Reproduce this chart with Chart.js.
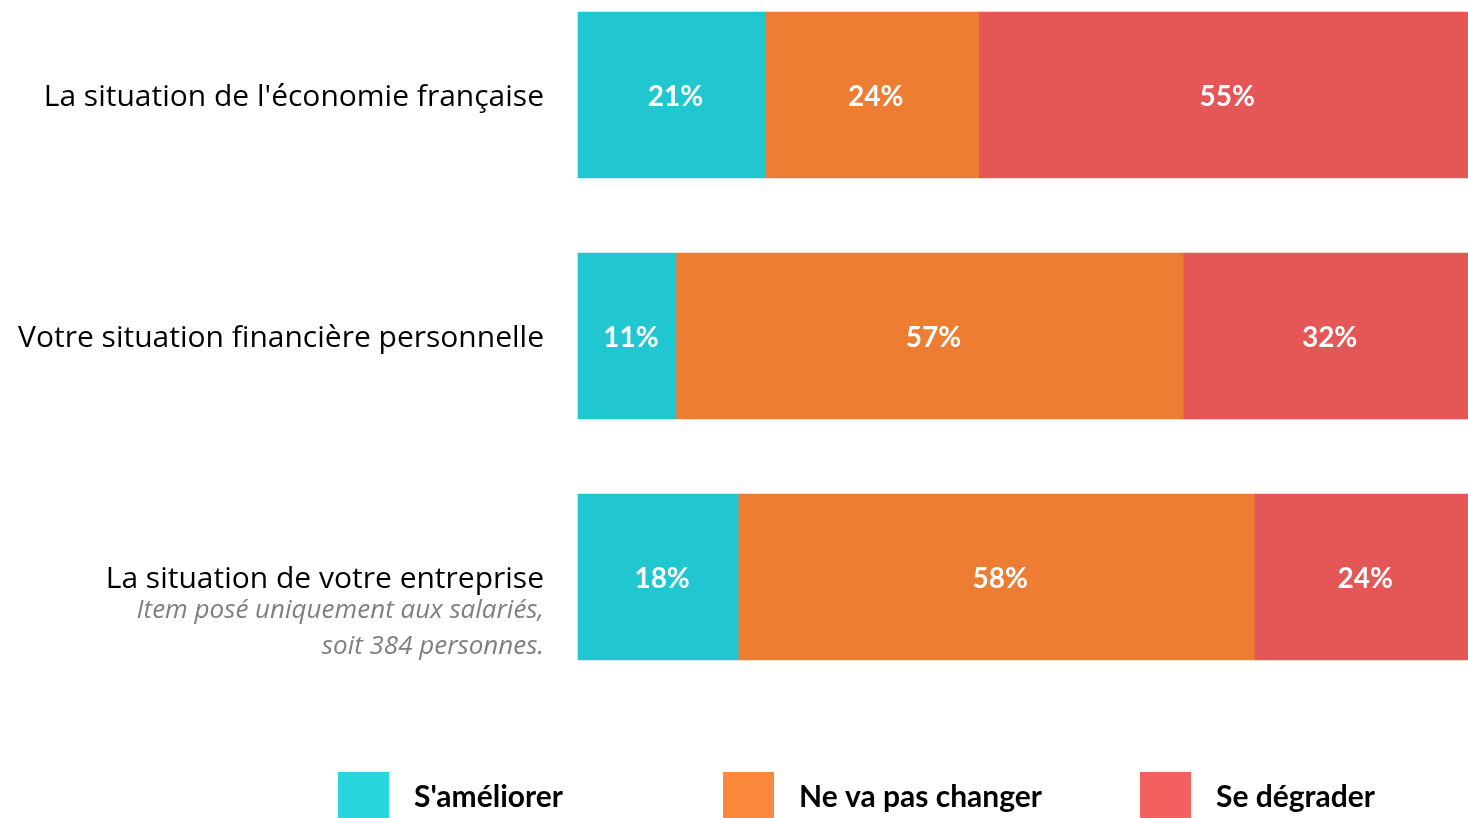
<!DOCTYPE html>
<html>
<head>
<meta charset="utf-8">
<script src="https://cdn.jsdelivr.net/npm/chart.js@4"></script>
<style>
    html, body { margin: 0; padding: 0; background: #fff; }
</style>
</head>
<body>
<canvas id="chartPerspectives" width="1468" height="818"></canvas>
<script>
// 항목 (카테고리)
var categories = [
    "La situation de l'économie française",
    "Votre situation financière personnelle",
    "La situation de votre entreprise"
];

// 세 번째 항목 아래 설명
var noteLines = ["Item posé uniquement aux salariés,", "soit 384 personnes."];

// 시리즈 이름
var seriesNames = ["S'améliorer", "Ne va pas changer", "Se dégrader"];

// 시리즈 값 (%)
var valuesAmeliorer = [21, 11, 18];
var valuesInchange = [24, 57, 58];
var valuesDegrader = [55, 32, 24];

var barColors = ["#21C7D0", "#EC7D32", "#E45756"];
var legendColors = ["#26D5DE", "#FB873A", "#F26060"];
var legendX = [338, 723, 1140];

Chart.defaults.font.family = "'Open Sans', Lato, sans-serif";

// 막대 안의 % 라벨
var valueLabelPlugin = {
    id: 'valueLabels',
    afterDatasetsDraw: function(chart) {
        var ctx = chart.ctx;
        ctx.save();
        ctx.fillStyle = "#fff";
        ctx.font = "bold 28px Lato";
        ctx.textAlign = "center";
        ctx.textBaseline = "middle";
        chart.data.datasets.forEach(function(ds, i) {
            chart.getDatasetMeta(i).data.forEach(function(bar, j) {
                var p = bar.getCenterPoint();
                ctx.fillText(ds.data[j] + "%", p.x + 4, p.y + 2);
            });
        });
        ctx.restore();
    }
};

// 설명 글 + 범례
var extrasPlugin = {
    id: 'extras',
    afterDraw: function(chart) {
        var ctx = chart.ctx;
        var yScale = chart.scales.y;
        var right = chart.chartArea.left - 34;
        var y0 = yScale.getPixelForValue(2);
        ctx.save();
        ctx.fillStyle = "#7F7F7F";
        ctx.font = "italic 26px 'Open Sans'";
        ctx.textAlign = "right";
        ctx.textBaseline = "middle";
        noteLines.forEach(function(line, i) {
            ctx.fillText(line, right, y0 + 34 + i * 36);
        });

        ctx.font = "bold 30px Lato";
        ctx.textAlign = "left";
        seriesNames.forEach(function(name, i) {
            ctx.fillStyle = legendColors[i];
            ctx.fillRect(legendX[i], 772, 51, 46);
            ctx.fillStyle = "#000";
            ctx.fillText(name, legendX[i] + 76, 797);
        });
        ctx.restore();
    }
};

var dataChartPerspectives = {
    labels: categories,
    datasets: [{
        label: seriesNames[0],
        backgroundColor: barColors[0],
        data: valuesAmeliorer
    }, {
        label: seriesNames[1],
        backgroundColor: barColors[1],
        data: valuesInchange
    }, {
        label: seriesNames[2],
        backgroundColor: barColors[2],
        data: valuesDegrader
    }]
};

var _element = document.getElementById("chartPerspectives").getContext("2d");
var myChartPerspectives = new Chart(_element, {
    type: 'bar',
    data: dataChartPerspectives,
    plugins: [valueLabelPlugin, extrasPlugin],
    options: {
        indexAxis: 'y',
        responsive: false,
        animation: false,
        clip: false,
        barThickness: 166,
        layout: {
            padding: { top: 95, bottom: 241, left: 0, right: 0 }
        },
        plugins: {
            legend: { display: false },
            tooltip: { enabled: false }
        },
        scales: {
            x: {
                display: false,
                stacked: true,
                min: 0,
                max: 100
            },
            y: {
                stacked: true,
                offset: false,
                grid: { display: false, drawTicks: false },
                border: { display: false },
                ticks: {
                    padding: 34,
                    labelOffset: 2,
                    color: "#000",
                    font: { size: 30 }
                },
                afterFit: function(scale) {
                    scale.width = 578;
                }
            }
        }
    }
});
</script>
</body>
</html>
